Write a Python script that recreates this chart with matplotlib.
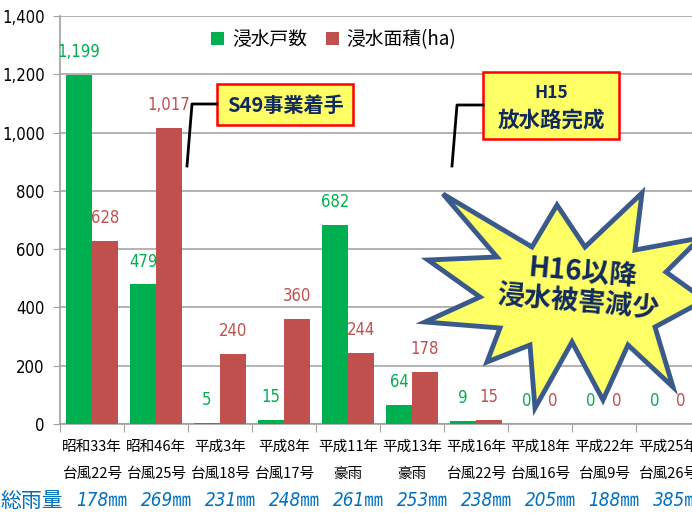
import numpy as np
import matplotlib.pyplot as plt
from matplotlib.patches import Rectangle, Polygon
from matplotlib.lines import Line2D

plt.rcParams['font.family'] = ['Noto Sans CJK JP', 'DejaVu Sans']

# data
years = ['昭和33年', '昭和46年', '平成3年', '平成8年', '平成11年', '平成13年',
         '平成16年', '平成18年', '平成22年', '平成25年']
storms = ['台風22号', '台風25号', '台風18号', '台風17号', '豪雨', '豪雨',
          '台風22号', '台風16号', '台風9号', '台風26号']
houses = [1199, 479, 5, 15, 682, 64, 9, 0, 0, 0]
area = [628, 1017, 240, 360, 244, 178, 15, 0, 0, 0]
rain = [178, 269, 231, 248, 261, 253, 238, 205, 188, 385]

GREEN = '#00B050'
RED = '#C0504D'
NAVY = '#102A5E'
narrow = dict(family=['DejaVu Sans'], fontstretch='condensed')

W, H = 692, 518
fig = plt.figure(figsize=(W / 100, H / 100), dpi=100)
ax = fig.add_axes([60 / W, 1 - 424 / H, 640 / W, 408 / H])


def px(x, y):
    # pixel position (from top-left) -> figure fraction
    return x / W, 1 - y / H


x = np.arange(len(years))
bw = 0.406
b1 = ax.bar(x - bw / 2, houses, bw, color=GREEN, label='浸水戸数', zorder=3)
b2 = ax.bar(x + bw / 2, area, bw, color=RED, label='浸水面積(ha)', zorder=3)

for bars, vals, c in [(b1, houses, GREEN), (b2, area, RED)]:
    for b, v in zip(bars, vals):
        ax.annotate(f'{v:,}', (b.get_x() + b.get_width() / 2, v),
                    xytext=(0, 10), textcoords='offset points',
                    ha='center', va='bottom', color=c, fontsize=12,
                    zorder=4, **narrow)

ax.set_xlim(-0.5, len(years) - 0.5)
ax.set_ylim(0, 1400)
ax.set_yticks(range(0, 1401, 200))
ax.set_yticklabels([f'{v:,}' for v in range(0, 1401, 200)], fontsize=12, **narrow)
ax.set_xticks(np.arange(len(years) + 1) - 0.5)
ax.set_xticklabels([])
ax.tick_params(axis='x', length=6, color='#A0A0A0')
ax.tick_params(axis='y', length=5, color='#A0A0A0', pad=6)
ax.grid(axis='y', color='#A6A6A6', lw=1.2, zorder=0)
for s in ['top', 'right']:
    ax.spines[s].set_visible(False)
for s in ['left', 'bottom']:
    ax.spines[s].set_color('#A0A0A0')
    ax.spines[s].set_linewidth(1.2)

# category labels and rainfall row
for i in range(len(years)):
    fx = (60 + 64 * i + 32) / W
    fig.text(fx, 1 - 447 / H, years[i], ha='center', va='center', fontsize=10.5)
    fig.text(fx, 1 - 474 / H, storms[i], ha='center', va='center', fontsize=10.5)
    fig.text(fx + 10 / W, 1 - 501 / H, f'{rain[i]}㎜', ha='center', va='center',
             fontsize=13.5, color='#0070C0', style='italic', fontstretch='condensed',
             family=['DejaVu Sans', 'Noto Sans CJK JP'])
fig.text(*px(0, 501), '総雨量', ha='left', va='center', fontsize=15, color='#0070C0')

leg = ax.legend(loc='upper left', bbox_to_anchor=(0.21, 1.01), ncol=2, frameon=False,
                fontsize=13.5, handlelength=0.7, handleheight=0.7, columnspacing=1.0,
                handletextpad=0.4)

# annotation boxes with leader lines
fig.add_artist(Rectangle(px(217, 125), 136 / W, 41 / H, transform=fig.transFigure,
                         facecolor='#FFFF66', edgecolor='red', lw=1.8, zorder=5))
fig.text(*px(285, 105), 'S49事業着手', ha='center', va='center', fontsize=14.5,
         fontweight='bold', color=NAVY, zorder=6)
xs, ys = zip(*[px(217, 104), px(192, 104), px(187, 166)])
fig.add_artist(Line2D(xs, ys, color='black', lw=2, transform=fig.transFigure, zorder=5))

fig.add_artist(Rectangle(px(483, 139), 136 / W, 67 / H, transform=fig.transFigure,
                         facecolor='#FFFF66', edgecolor='red', lw=1.8, zorder=5))
fig.text(*px(551, 93), 'H15', ha='center', va='center', fontsize=12.5,
         fontweight='bold', color=NAVY, zorder=6)
fig.text(*px(551, 120), '放水路完成', ha='center', va='center', fontsize=15.5,
         fontweight='bold', color=NAVY, zorder=6)
xs, ys = zip(*[px(483, 105), px(457, 105), px(452, 166)])
fig.add_artist(Line2D(xs, ys, color='black', lw=2, transform=fig.transFigure, zorder=5))

# starburst callout
star = [(443, 194), (532, 247), (557, 205), (585, 247), (642, 193), (635, 250),
        (700, 238), (666, 272), (705, 300), (655, 327), (673, 387), (628, 345),
        (603, 400), (572, 342), (535, 408), (530, 345), (487, 362), (500, 328),
        (425, 322), (480, 297), (428, 260), (497, 257)]
fig.add_artist(Polygon([px(a, b) for a, b in star], closed=True, transform=fig.transFigure,
                       facecolor='#FFFF66', edgecolor='#3A5A8C', lw=3.5, zorder=5))
fig.text(*px(583, 272), 'H16以降', ha='center', va='center', fontsize=20,
         fontweight='bold', color=NAVY, rotation=-5, zorder=6)
fig.text(*px(578, 302), '浸水被害減少', ha='center', va='center', fontsize=19.5,
         fontweight='bold', color=NAVY, rotation=-5, zorder=6)

fig.savefig('out.png', dpi=100)
